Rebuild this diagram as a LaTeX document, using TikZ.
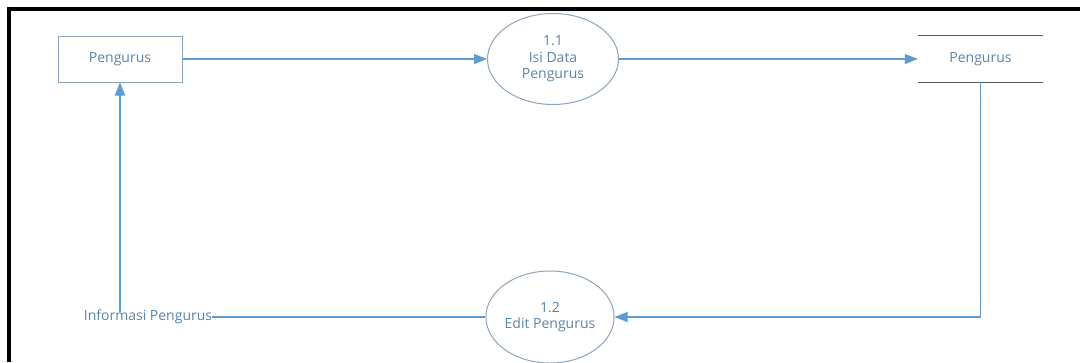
\documentclass[tikz,border=0pt]{standalone}
\usepackage{fontspec}
\setmainfont{Open Sans}
\usetikzlibrary{shapes.geometric,arrows.meta}
\definecolor{flow}{HTML}{5E9BD0}
\definecolor{shapeline}{HTML}{8CA5BC}
\definecolor{txt}{HTML}{5A84A8}
\definecolor{storeline}{HTML}{555A60}
\begin{document}
\begin{tikzpicture}[x=1pt,y=-1pt,
  every node/.style={font=\fontsize{14}{16.5}\selectfont, text=txt, align=center, inner sep=0pt},
  entity/.style={draw=shapeline, line width=1pt, rectangle, minimum width=124pt, minimum height=46pt},
  proc/.style={draw=shapeline, line width=1pt, ellipse},
  storebox/.style={rectangle, minimum width=125pt, minimum height=46pt},
  flowline/.style={draw=flow, line width=1.1pt},
  flowarrow/.style={flowline, -{Triangle[length=13pt,width=10pt]}}
]
\useasboundingbox (0,0) rectangle (1080,362);
\fill[white] (0,0) rectangle (1080,362);
\draw[line width=4pt, black] (1080,9) -- (9,9) -- (9,362);

\node[entity] (ent) at (120,59) {Pengurus};
\node[proc, minimum width=131pt, minimum height=91pt] (p11) at (553,59) {1.1\\Isi Data\\Pengurus};
\node[storebox] (store) at (980.5,59) {Pengurus};
\draw[storeline, line width=1.3pt] (store.north west) -- (store.north east);
\draw[storeline, line width=1.3pt] (store.south west) -- (store.south east);
\node[proc, minimum width=125pt, minimum height=92pt] (p12) at (550,317) {1.2\\Edit Pengurus};
\node (info) at (148,317) {Informasi Pengurus};

\draw[flowarrow] (ent.east) -- (p11.west);
\draw[flowarrow] (p11.east) -- (store.west);
\draw[flowarrow] (store.south) -- (store.south |- p12.east) -- (p12.east);
\draw[flowline] (p12.west) -- (p12.west -| info.east);
\coordinate (up) at ([yshift=-2pt]info.north -| ent.south);
\draw[flowarrow] (up) -- (ent.south);
\end{tikzpicture}
\end{document}
